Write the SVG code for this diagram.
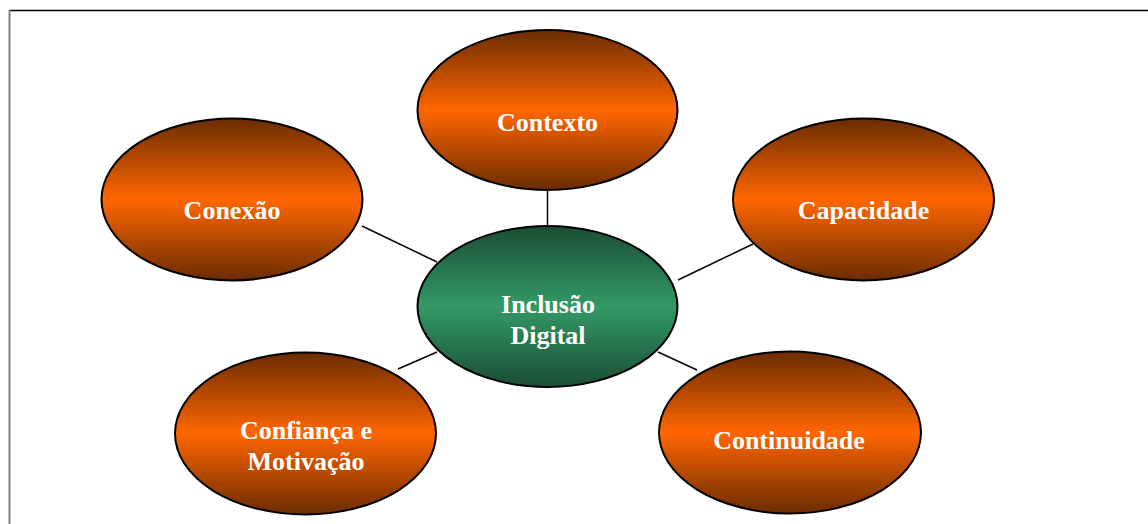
<svg xmlns="http://www.w3.org/2000/svg" width="1148" height="524" viewBox="0 0 1148 524">
<defs>
<linearGradient id="gOrange" x1="0" y1="0" x2="0" y2="1">
<stop offset="0" stop-color="#6b2c00"/>
<stop offset="0.5" stop-color="#ff6600"/>
<stop offset="1" stop-color="#6b2c00"/>
</linearGradient>
<linearGradient id="gGreen" x1="0" y1="0" x2="0" y2="1">
<stop offset="0" stop-color="#1b4d34"/>
<stop offset="0.5" stop-color="#339966"/>
<stop offset="1" stop-color="#1b4d34"/>
</linearGradient>
<style>
.o{fill:url(#gOrange);stroke:#000;stroke-width:2}
.g{fill:url(#gGreen);stroke:#000;stroke-width:2}
.t{font-family:"Liberation Serif","Times New Roman",serif;font-weight:bold;font-size:26px;fill:#fff;text-anchor:middle}
.c{stroke:#000;stroke-width:1.5;fill:none}
</style>
</defs>
<rect width="1148" height="524" fill="#fff"/>
<line x1="9" y1="10.5" x2="1148" y2="10.5" stroke="#000" stroke-width="1.5"/>
<line x1="9.5" y1="10" x2="9.5" y2="524" stroke="#808080" stroke-width="2"/>
<g id="connectors">
<line class="c" x1="547.5" y1="190" x2="547.5" y2="226"/>
<line class="c" x1="362" y1="226" x2="437" y2="262"/>
<line class="c" x1="678" y1="280" x2="753" y2="244"/>
<line class="c" x1="398" y1="369" x2="437" y2="352"/>
<line class="c" x1="658" y1="352" x2="697" y2="370"/>
</g>
<g id="contexto">
<ellipse class="o" cx="547.5" cy="110" rx="130" ry="80"/>
<text class="t" x="547.5" y="131">Contexto</text>
</g>
<g id="conexao">
<ellipse class="o" cx="232" cy="199.5" rx="130.5" ry="81"/>
<text class="t" x="232" y="219">Conexão</text>
</g>
<g id="capacidade">
<ellipse class="o" cx="863.5" cy="199.5" rx="130.5" ry="81"/>
<text class="t" x="863.5" y="219">Capacidade</text>
</g>
<g id="inclusao">
<ellipse class="g" cx="547.5" cy="306.5" rx="130" ry="80.5"/>
<text class="t" x="548" y="313">Inclusão</text>
<text class="t" x="548" y="344">Digital</text>
</g>
<g id="confianca">
<ellipse class="o" cx="305.5" cy="433.5" rx="130.5" ry="81"/>
<text class="t" x="306" y="439">Confiança e</text>
<text class="t" x="306" y="470">Motivação</text>
</g>
<g id="continuidade">
<ellipse class="o" cx="790" cy="432.5" rx="131" ry="81"/>
<text class="t" x="789" y="449">Continuidade</text>
</g>
</svg>
